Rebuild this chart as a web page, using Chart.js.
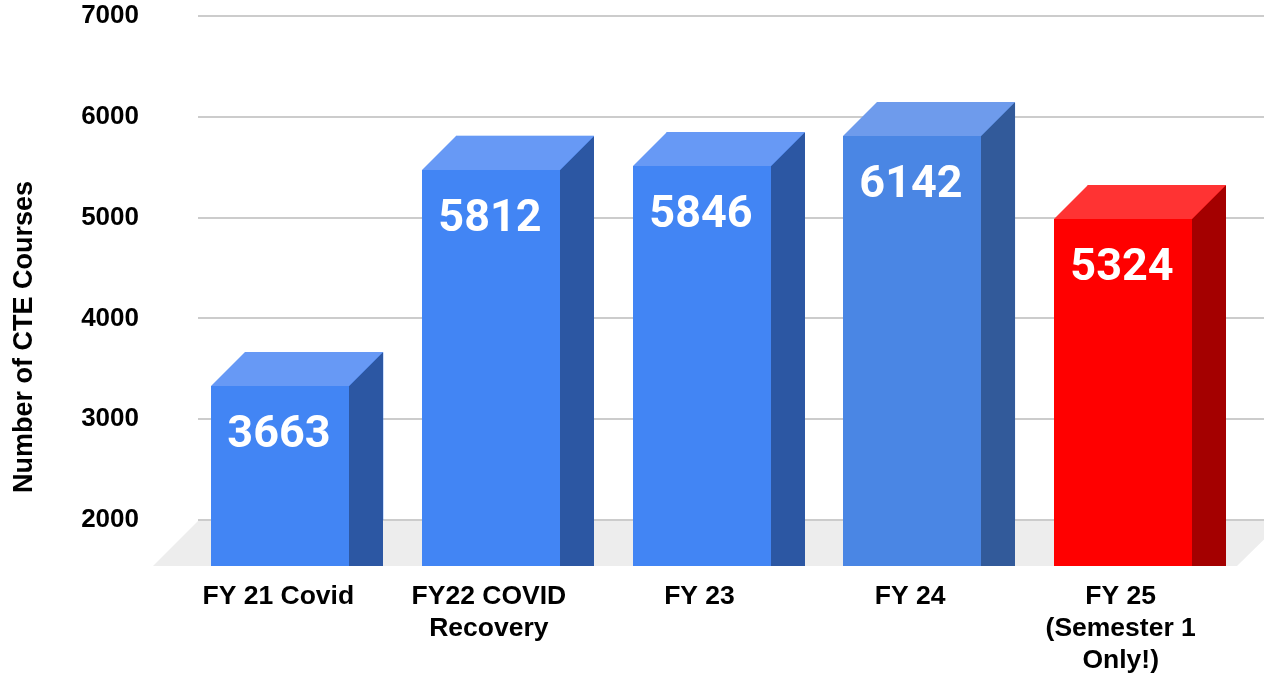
<!DOCTYPE html>
<html>
<head>
<meta charset="utf-8">
<title>CTE Courses</title>
<script src="https://cdn.jsdelivr.net/npm/chart.js@4"></script>
<style>
    html, body { margin: 0; padding: 0; background: #fff; overflow: hidden; }
    canvas { display: block; }
</style>
</head>
<body>
<canvas id="cteChart" width="1264" height="674"></canvas>
<script>
const categories = [
    'FY 21 Covid',
    ['FY22 COVID', 'Recovery'],
    'FY 23',
    'FY 24',
    ['FY 25', '(Semester 1', 'Only!)']
];
const courseCounts = [3663, 5812, 5846, 6142, 5324];
const yTicks = [2000, 3000, 4000, 5000, 6000, 7000];
const yTitle = 'Number of CTE Courses';

const frontColors = ['#4285f4', '#4285f4', '#4285f4', '#4a86e4', '#ff0000'];
const topColors = ['#6799f5', '#6799f5', '#6799f5', '#6e9bec', '#ff3333'];
const sideColors = ['#2c57a3', '#2c57a3', '#2c57a3', '#325a9a', '#a40000'];

const DEPTH = 34;      // how far the front face sits from the back face
const FLOOR_DROP = 46; // floor front edge below the 2000 line
const FONT_FAMILY = '"Liberation Sans", Arial, sans-serif';

function fillShape(ctx, color, points) {
    ctx.fillStyle = color;
    ctx.beginPath();
    points.forEach((p, i) => i ? ctx.lineTo(p[0], p[1]) : ctx.moveTo(p[0], p[1]));
    ctx.closePath();
    ctx.fill();
}

// Draws the floor behind the bars
const floorPlugin = {
    id: 'floor',
    beforeDatasetsDraw(chart) {
        const { ctx, chartArea } = chart;
        const yScale = chart.scales.y;
        const top = yScale.getPixelForValue(2000) + 1;
        const bottom = top + FLOOR_DROP - 1;
        fillShape(ctx, '#ededed', [
            [chartArea.left - 11, top],
            [chartArea.right + 21, top],
            [chartArea.right - 25, bottom],
            [chartArea.left - 56, bottom]
        ]);

        // grid lines run on to the canvas edge
        ctx.fillStyle = '#cccccc';
        yTicks.forEach(value => {
            ctx.fillRect(chartArea.right, Math.round(yScale.getPixelForValue(value)) - 1, 2, 2);
        });
    }
};

// Turns each library bar into a box, the bar itself being the back face
const boxPlugin = {
    id: 'box',
    afterDatasetsDraw(chart) {
        const { ctx } = chart;
        const floorY = chart.scales.y.getPixelForValue(2000) + FLOOR_DROP;
        chart.getDatasetMeta(0).data.forEach((bar, i) => {
            const backLeft = Math.round(bar.x - bar.width / 2);
            const backRight = backLeft + Math.round(bar.width);
            const frontLeft = backLeft - DEPTH;
            const frontRight = backRight - DEPTH;
            const backTop = Math.round(bar.y);
            const frontTop = backTop + DEPTH;

            fillShape(ctx, sideColors[i], [
                [frontRight, frontTop], [backRight, backTop],
                [backRight, floorY], [frontRight, floorY]
            ]);
            fillShape(ctx, topColors[i], [
                [frontLeft, frontTop], [backLeft, backTop],
                [backRight, backTop], [frontRight, frontTop]
            ]);
            fillShape(ctx, frontColors[i], [
                [frontLeft, frontTop], [frontRight, frontTop],
                [frontRight, floorY], [frontLeft, floorY]
            ]);

            ctx.fillStyle = '#fff';
            ctx.font = 'bold 45px Roboto, sans-serif';
            ctx.textAlign = 'center';
            ctx.textBaseline = 'middle';
            ctx.fillText(String(courseCounts[i]), (frontLeft + frontRight) / 2 - 1, frontTop + 50);
        });
    }
};

// The axis title sits lower than the plot's centre, so it is placed by hand
const yTitlePlugin = {
    id: 'yTitle',
    afterDraw(chart) {
        const { ctx } = chart;
        ctx.save();
        ctx.translate(25, 337);
        ctx.rotate(-Math.PI / 2);
        ctx.fillStyle = '#000';
        ctx.font = `bold 27px ${FONT_FAMILY}`;
        ctx.textAlign = 'center';
        ctx.textBaseline = 'middle';
        ctx.fillText(yTitle, 0, 0);
        ctx.restore();
    }
};

new Chart(document.getElementById('cteChart'), {
    type: 'bar',
    data: {
        labels: categories,
        datasets: [{
            data: courseCounts,
            backgroundColor: frontColors,
            barPercentage: 0.655,
            categoryPercentage: 1
        }]
    },
    options: {
        responsive: false,
        animation: false,
        layout: { padding: { top: 16, right: 2 } },
        plugins: { legend: { display: false }, tooltip: { enabled: false } },
        scales: {
            x: {
                grid: { display: false },
                border: { display: false },
                // tick padding also pads the plot sideways, so undo that here
                afterFit: scale => {
                    scale.height = 154;
                    scale.paddingLeft = 0;
                    scale.paddingRight = 0;
                },
                ticks: {
                    color: '#000',
                    font: { family: FONT_FAMILY, weight: 'bold', size: 26.5, lineHeight: 1.21 },
                    padding: 53,
                    labelOffset: -36,
                    maxRotation: 0,
                    autoSkip: false
                }
            },
            y: {
                min: 2000,
                max: 7000,
                afterFit: scale => {
                    scale.width = 209;
                    scale.paddingTop = 0;
                    scale.paddingBottom = 0;
                },
                afterBuildTicks: scale => { scale.ticks = yTicks.map(value => ({ value })); },
                grid: { color: '#cccccc', lineWidth: 2, tickLength: 11, tickColor: '#cccccc' },
                border: { display: false },
                ticks: {
                    color: '#000',
                    font: { family: FONT_FAMILY, weight: 'bold', size: 26 },
                    padding: 59,
                    callback: value => String(value)
                }
            }
        }
    },
    plugins: [floorPlugin, boxPlugin, yTitlePlugin]
});
</script>
</body>
</html>
